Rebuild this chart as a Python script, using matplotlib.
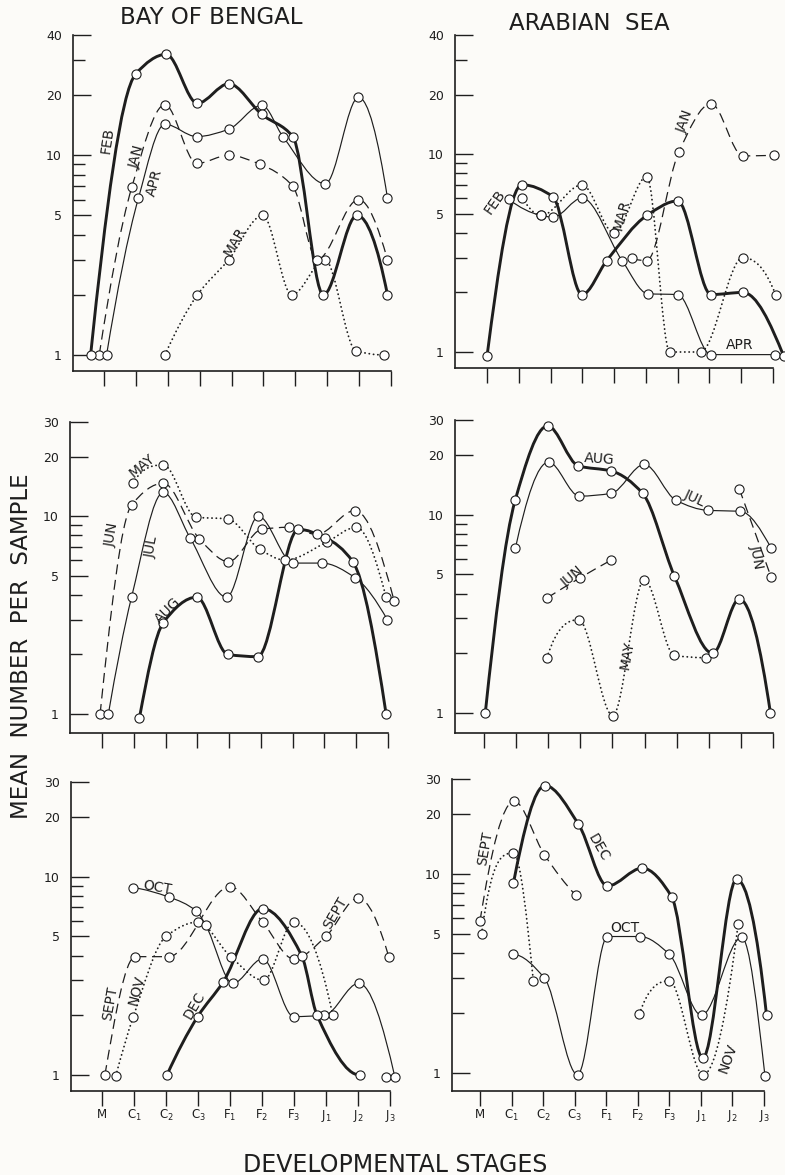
import numpy as np
import matplotlib
matplotlib.use('Agg')
import matplotlib.pyplot as plt
from matplotlib.path import Path
from matplotlib.patches import PathPatch
from matplotlib.ticker import FixedLocator, FixedFormatter, NullFormatter

plt.rcParams['font.family'] = ['DejaVu Sans']
plt.rcParams['mathtext.fontset'] = 'dejavusans'

nan = np.nan

stage_labels = ['M', r'C$_1$', r'C$_2$', r'C$_3$', r'F$_1$', r'F$_2$',
                r'F$_3$', r'J$_1$', r'J$_2$', r'J$_3$']

# --- Bay of Bengal, Jan - Apr
bob1_jan_x = [-0.15, 0.87, 1.91, 2.91, 3.91, 4.90, 5.92, 6.68, 7.98, 8.89]
bob1_jan_y = [1.0, 6.9, 17.9, 9.1, 10.0, 9.0, 7.0, 3.0, 6.0, 3.0]
bob1_feb_x = [-0.42, 1.00, 1.95, 2.93, 3.91, 4.95, 5.92, 6.88, 7.93, 8.89]
bob1_feb_y = [1.0, 25.6, 32.0, 18.2, 22.8, 16.0, 12.4, 2.0, 5.0, 2.0]
bob1_mar_x = [1.91, 2.93, 3.91, 4.98, 5.89, 6.93, 7.90, 8.79]
bob1_mar_y = [1.0, 2.0, 3.0, 5.0, 2.0, 3.0, 1.05, 1.0]
bob1_apr_x = [0.08, 1.08, 1.91, 2.91, 3.91, 4.95, 5.61, 6.94, 7.98, 8.89]
bob1_apr_y = [1.0, 6.1, 14.3, 12.4, 13.5, 17.8, 12.4, 7.2, 19.5, 6.1]

# --- Arabian Sea, Jan - Apr
as1_jan_x = [4.56, 5.03, 6.04, 7.05, 8.05, 9.02]
as1_jan_y = [3.0, 2.9, 10.3, 18.0, 9.8, 9.9]
as1_feb_x = [0.00, 1.10, 2.07, 2.99, 3.77, 5.03, 6.00, 7.05, 8.05, 9.34]
as1_feb_y = [0.95, 7.0, 6.1, 1.95, 2.9, 4.9, 5.8, 1.95, 2.0, 0.95]
as1_mar_x = [1.10, 1.70, 2.99, 4.00, 5.03, 5.75, 6.72, 8.05, 9.08]
as1_mar_y = [6.0, 4.9, 7.0, 4.0, 7.7, 1.0, 1.0, 3.0, 1.95]
as1_apr_x = [0.69, 1.70, 2.08, 2.99, 4.25, 5.06, 6.00, 7.05, 9.07]
as1_apr_y = [5.9, 4.9, 4.8, 6.0, 2.9, 1.97, 1.95, 0.97, 0.97]

# --- Bay of Bengal, May - Aug
bob2_may_x = [0.97, 1.93, 2.96, 3.95, 4.97, 5.76, 7.07, 8.00, 8.94]
bob2_may_y = [14.7, 18.2, 9.9, 9.7, 6.8, 6.0, 7.4, 8.8, 3.9]
bob2_jun_x = [-0.06, 0.93, 1.93, 3.06, 3.98, 5.03, 5.87, 6.76, 7.96, 9.19]
bob2_jun_y = [1.0, 11.4, 14.7, 7.7, 5.9, 8.6, 8.8, 8.1, 10.7, 3.75]
bob2_jul_x = [0.20, 0.93, 1.93, 2.77, 3.92, 4.92, 6.02, 6.92, 7.96, 8.98]
bob2_jul_y = [1.0, 3.9, 13.2, 7.8, 3.9, 10.0, 5.8, 5.8, 4.9, 3.0]
bob2_aug_x = [1.18, 1.93, 2.98, 3.96, 4.90, 6.18, 7.02, 7.89, 8.94]
bob2_aug_y = [0.96, 2.9, 3.9, 2.0, 1.95, 8.6, 7.8, 5.9, 1.0]

# --- Arabian Sea, May - Aug
as2_may_x = [1.96, 2.95, 4.01, 4.99, 5.93, 6.90]
as2_may_y = [1.9, 2.95, 0.97, 4.7, 1.95, 1.9]
as2_jun_x = [1.96, 2.99, 3.96, nan, 7.95, 8.94]
as2_jun_y = [3.8, 4.8, 5.9, nan, 13.5, 4.85]
as2_jul_x = [0.98, 2.01, 2.97, 3.96, 4.99, 5.98, 6.99, 7.98, 8.94]
as2_jul_y = [6.8, 18.4, 12.4, 12.8, 17.9, 11.8, 10.5, 10.4, 6.8]
as2_aug_x = [0.04, 0.97, 1.98, 2.94, 3.96, 4.94, 5.93, 7.12, 7.95, 8.92]
as2_aug_y = [1.0, 11.8, 28.0, 17.6, 16.6, 12.8, 4.9, 2.0, 3.75, 1.0]

# --- Bay of Bengal, Sept - Dec
bob3_sep_x = [0.09, 1.04, 2.08, 4.00, 5.02, 5.99, 7.00, 8.00, 8.96]
bob3_sep_y = [1.0, 3.95, 3.95, 8.9, 5.9, 3.85, 5.0, 7.8, 3.95]
bob3_oct_x = [0.98, 2.08, 2.95, 3.24, 4.09, 5.02, 5.99, 6.95, 8.02, 9.15]
bob3_oct_y = [8.8, 7.9, 6.7, 5.7, 2.9, 3.85, 1.97, 2.0, 2.9, 0.98]
bob3_nov_x = [0.43, 0.98, 2.00, 2.99, 4.02, 5.05, 5.99, 7.21, nan, 8.86]
bob3_nov_y = [0.99, 1.97, 5.0, 5.9, 3.95, 3.0, 5.9, 2.0, nan, 0.98]
bob3_dec_x = [2.03, 2.99, 3.79, 5.02, 6.24, 6.72, 8.05]
bob3_dec_y = [1.0, 1.97, 2.95, 6.9, 4.0, 2.0, 1.0]

# --- Arabian Sea, Sept - Dec
as3_sep_x = [0.00, 1.08, 2.04, 3.04]
as3_sep_y = [5.8, 23.2, 12.5, 7.8]
as3_oct_x = [1.03, 2.04, 3.09, 4.04, 5.07, 6.00, 7.02, 8.29, 9.03]
as3_oct_y = [3.95, 3.0, 0.98, 4.85, 4.85, 3.95, 1.95, 4.8, 0.97]
as3_nov_x = [0.05, 1.06, 1.69, nan, 5.05, 6.00, 7.07, 8.18]
as3_nov_y = [5.0, 12.7, 2.9, nan, 1.98, 2.9, 0.98, 5.6]
as3_dec_x = [1.06, 2.06, 3.12, 4.04, 5.14, 6.07, 7.06, 8.13, 9.08]
as3_dec_y = [9.0, 27.8, 17.8, 8.7, 10.7, 7.7, 1.19, 9.4, 1.95]

INK = '#1e1e1e'
BG = '#fcfbf8'
W, H = 785, 1175

styles = {
    'thick': dict(lw=2.1, ls='-', cap='round'),
    'thin': dict(lw=0.85, ls='-', cap='round'),
    'dash': dict(lw=0.9, ls=(0, (8, 4.5)), cap='butt'),
    'dot': dict(lw=1.3, ls=(0, (0.1, 2.3)), cap='round'),
}


def shape_slopes(x, ly):
    # shape preserving tangents, so the curve does not swing past the points
    h = np.diff(x)
    dl = np.diff(ly) / h
    n = len(x)
    m = np.zeros(n)
    if n == 2:
        m[:] = dl[0]
        return m
    for k in range(1, n - 1):
        if dl[k - 1] * dl[k] > 0:
            w1 = 2 * h[k] + h[k - 1]
            w2 = h[k] + 2 * h[k - 1]
            m[k] = (w1 + w2) / (w1 / dl[k - 1] + w2 / dl[k])
    for k, (h0, h1, d0, d1) in ((0, (h[0], h[1], dl[0], dl[1])),
                                (n - 1, (h[-1], h[-2], dl[-1], dl[-2]))):
        e = ((2 * h0 + h1) * d0 - h0 * d1) / (h0 + h1)
        if e * d0 <= 0:
            e = 0.0
        elif d0 * d1 < 0 and abs(e) > 3 * abs(d0):
            e = 3 * d0
        m[k] = e
    return m


def draw_series(ax, xs, ys, kind):
    xs = np.asarray(xs, float)
    ys = np.asarray(ys, float)
    st = styles[kind]
    runs, cur = [], []
    for i in range(len(xs)):
        if np.isnan(ys[i]):
            if cur:
                runs.append(cur)
            cur = []
        else:
            cur.append(i)
    if cur:
        runs.append(cur)
    for run in runs:
        x = xs[run]
        ly = np.log10(ys[run])
        n = len(x)
        if n < 2:
            continue
        m = shape_slopes(x, ly)
        verts = [(x[0], 10 ** ly[0])]
        codes = [Path.MOVETO]
        for i in range(n - 1):
            d = (x[i + 1] - x[i]) / 3.0
            verts += [(x[i] + d, 10 ** (ly[i] + m[i] * d)),
                      (x[i + 1] - d, 10 ** (ly[i + 1] - m[i + 1] * d)),
                      (x[i + 1], 10 ** ly[i + 1])]
            codes += [Path.CURVE4] * 3
        patch = PathPatch(Path(verts, codes), fill=False, edgecolor=INK,
                          lw=st['lw'], ls=st['ls'], capstyle=st['cap'],
                          transform=ax.transData, clip_on=False, zorder=3)
        ax.add_patch(patch)
    ax.plot(xs, ys, ls='none', marker='o', ms=6.6, mfc='white', mec=INK,
            mew=0.8, zorder=4, clip_on=False)


fig = plt.figure(figsize=(W / 100, H / 100), dpi=100, facecolor=BG)


def make_axes(spine_x, m_x, j3_x, top_y, top_val, one_y, bottom_y, bottom_row):
    step = (j3_x - m_x) / 9.0
    ax = fig.add_axes([spine_x / W, 1 - bottom_y / H,
                       (j3_x - spine_x) / W, (bottom_y - top_y) / H])
    ax.set_facecolor('none')
    per_dec = (one_y - top_y) / np.log10(top_val)
    ax.set_yscale('log')
    ax.set_xlim((spine_x - m_x) / step, 9)
    ax.set_ylim(10 ** (-(bottom_y - one_y) / per_dec), top_val)
    for s in ['top', 'right']:
        ax.spines[s].set_visible(False)
    for s in ['left', 'bottom']:
        ax.spines[s].set_linewidth(1.2)
        ax.spines[s].set_color(INK)
    ax.set_xticks(range(10))
    ax.tick_params(axis='x', direction='out', length=10.5, width=1.0,
                   color=INK, labelsize=8.5, pad=2, labelcolor=INK)
    ax.set_xticklabels(stage_labels if bottom_row else [])
    if top_val == 40:
        major, lab = [1, 5, 10, 20, 40], ['1', '5', '10', '20', '40']
        minor = [2, 3, 4, 6, 7, 8, 9, 30]
    else:
        major, lab = [1, 5, 10, 20, 30], ['1', '5', '10', '20', '30']
        minor = [2, 3, 4, 6, 7, 8, 9]
    ax.yaxis.set_major_locator(FixedLocator(major))
    ax.yaxis.set_major_formatter(FixedFormatter(lab))
    ax.yaxis.set_minor_locator(FixedLocator(minor))
    ax.yaxis.set_minor_formatter(NullFormatter())
    ax.tick_params(axis='y', which='major', direction='in', length=13,
                   width=1.0, color=INK, labelsize=9, pad=8, labelcolor=INK)
    ax.tick_params(axis='y', which='minor', direction='in', length=8.5,
                   width=1.0, color=INK)
    return ax


ax_tl = make_axes(73, 104, 391, 35, 40, 355, 371, False)
ax_tr = make_axes(455, 487, 773, 35, 40, 352, 368, False)
ax_ml = make_axes(70, 102, 388, 422, 30, 714, 733, False)
ax_mr = make_axes(455, 484, 773, 420, 30, 713, 733, False)
ax_bl = make_axes(71, 102, 390, 782, 30, 1075, 1091, True)
ax_br = make_axes(452, 480, 764, 779, 30, 1073, 1091, True)

draw_series(ax_tl, bob1_mar_x, bob1_mar_y, 'dot')
draw_series(ax_tl, bob1_jan_x, bob1_jan_y, 'dash')
draw_series(ax_tl, bob1_apr_x, bob1_apr_y, 'thin')
draw_series(ax_tl, bob1_feb_x, bob1_feb_y, 'thick')

draw_series(ax_tr, as1_mar_x, as1_mar_y, 'dot')
draw_series(ax_tr, as1_jan_x, as1_jan_y, 'dash')
draw_series(ax_tr, as1_apr_x, as1_apr_y, 'thin')
draw_series(ax_tr, as1_feb_x, as1_feb_y, 'thick')

draw_series(ax_ml, bob2_may_x, bob2_may_y, 'dot')
draw_series(ax_ml, bob2_jun_x, bob2_jun_y, 'dash')
draw_series(ax_ml, bob2_jul_x, bob2_jul_y, 'thin')
draw_series(ax_ml, bob2_aug_x, bob2_aug_y, 'thick')

draw_series(ax_mr, as2_may_x, as2_may_y, 'dot')
draw_series(ax_mr, as2_jun_x, as2_jun_y, 'dash')
draw_series(ax_mr, as2_jul_x, as2_jul_y, 'thin')
draw_series(ax_mr, as2_aug_x, as2_aug_y, 'thick')

draw_series(ax_bl, bob3_nov_x, bob3_nov_y, 'dot')
draw_series(ax_bl, bob3_sep_x, bob3_sep_y, 'dash')
draw_series(ax_bl, bob3_oct_x, bob3_oct_y, 'thin')
draw_series(ax_bl, bob3_dec_x, bob3_dec_y, 'thick')

draw_series(ax_br, as3_nov_x, as3_nov_y, 'dot')
draw_series(ax_br, as3_sep_x, as3_sep_y, 'dash')
draw_series(ax_br, as3_oct_x, as3_oct_y, 'thin')
draw_series(ax_br, as3_dec_x, as3_dec_y, 'thick')

# month labels: (text, x px, y px, rotation)
month_tags = [
    ('FEB', 107, 140, 82), ('JAN', 137, 157, 75), ('APR', 155, 183, 75),
    ('MAR', 235, 242, 60),
    ('FEB', 495, 202, 55), ('MAR', 622, 215, 75), ('JAN', 685, 122, 70),
    ('APR', 740, 345, 0),
    ('MAY', 142, 466, 40), ('JUN', 112, 535, 80), ('JUL', 152, 547, 80),
    ('AUG', 168, 610, 45),
    ('AUG', 599, 459, -4), ('JUL', 695, 498, -25), ('JUN', 573, 577, 40),
    ('JUN', 757, 557, -80), ('MAY', 627, 655, 80),
    ('OCT', 157, 888, -10), ('SEPT', 110, 1003, 80), ('NOV', 137, 990, 75),
    ('DEC', 194, 1005, 60), ('SEPT', 335, 913, 60),
    ('SEPT', 485, 848, 80), ('DEC', 598, 848, -60), ('OCT', 625, 928, 0),
    ('NOV', 728, 1058, 70),
]
for t, px, py, rot in month_tags:
    fig.text(px / W, 1 - py / H, t, rotation=rot, ha='center', va='center',
             fontsize=10, color=INK, rotation_mode='anchor')

fig.text(211 / W, 1 - 18 / H, 'BAY OF BENGAL', ha='center', va='center',
         fontsize=16.5, color=INK)
fig.text(589 / W, 1 - 23 / H, 'ARABIAN  SEA', ha='center', va='center',
         fontsize=16.5, color=INK)
fig.text(22 / W, 1 - 646 / H, 'MEAN  NUMBER  PER  SAMPLE', rotation=90,
         ha='center', va='center', fontsize=16.5, color=INK)
fig.text(395 / W, 1 - 1165 / H, 'DEVELOPMENTAL STAGES', ha='center',
         va='center', fontsize=17, color=INK)

fig.savefig('out.png', dpi=100, facecolor=BG)
